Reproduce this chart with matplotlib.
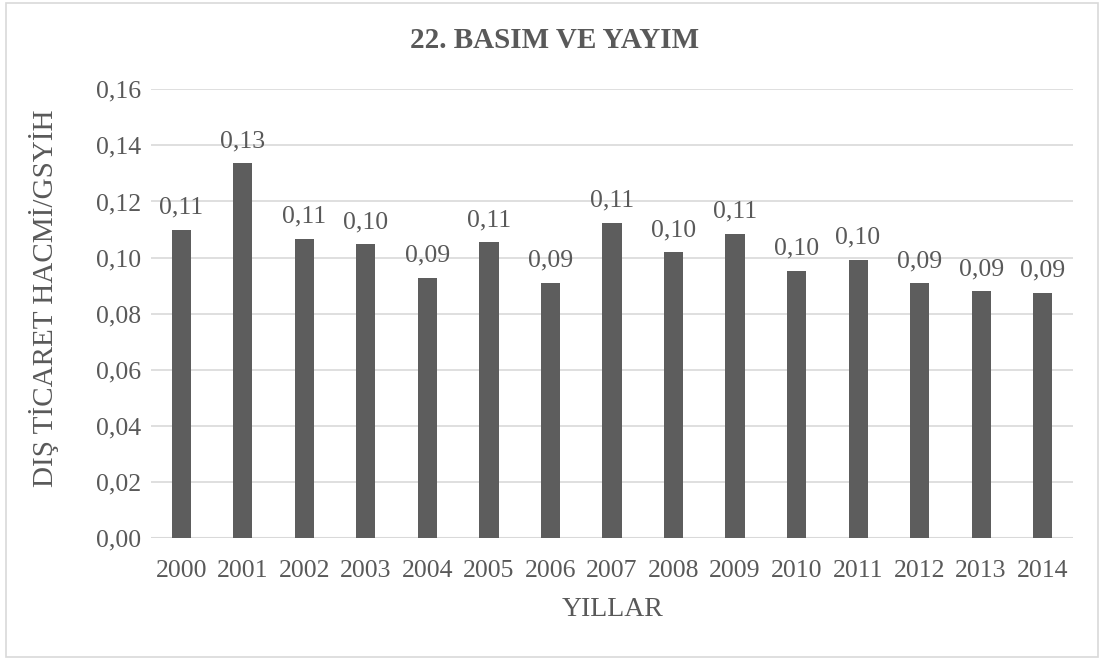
import matplotlib
matplotlib.use("Agg")
import matplotlib.pyplot as plt
from matplotlib.patches import Rectangle

years = ["2000", "2001", "2002", "2003", "2004", "2005", "2006", "2007",
         "2008", "2009", "2010", "2011", "2012", "2013", "2014"]
values = [0.1099, 0.1336, 0.1067, 0.1047, 0.0928, 0.1054, 0.0910, 0.1123,
          0.1019, 0.1085, 0.0952, 0.0993, 0.0908, 0.0879, 0.0874]
yticks = [0.00, 0.02, 0.04, 0.06, 0.08, 0.10, 0.12, 0.14, 0.16]

title = "22. BASIM VE YAYIM"
ylabel = "DIŞ TİCARET HACMİ/GSYİH"
xlabel = "YILLAR"

txt = "#595959"
bar_c = "#5d5d5d"
grid_c = "#d9d9d9"
fam = ['Liberation Serif', 'DejaVu Serif']

plt.rcParams['font.family'] = fam

fig = plt.figure(figsize=(11.03, 6.58), dpi=100)
ax = fig.add_axes([0.1366, 0.1824, 0.8365, 0.6819])

x = list(range(len(years)))
ax.bar(x, values, width=0.31, color=bar_c, zorder=3)

ax.set_xlim(-0.5, len(years) - 0.5)
ax.set_ylim(0, 0.16)
ax.set_yticks(yticks)
ax.set_yticklabels([f"{t:.2f}".replace(".", ",") for t in yticks])
ax.set_xticks(x)
ax.set_xticklabels(years)
ax.tick_params(axis='both', length=0, labelsize=18.5, colors=txt)
ax.tick_params(axis='x', pad=16)
ax.tick_params(axis='y', pad=7)

ax.grid(axis='y', color=grid_c, linewidth=1.2, zorder=0)
for s in ax.spines.values():
    s.set_visible(False)
ax.axhline(0, color=grid_c, linewidth=1.5, zorder=2)

for xi, v in zip(x, values):
    ax.annotate(f"{v:.2f}".replace(".", ","), (xi, v), xytext=(0, 8),
                textcoords="offset points", ha='center', va='bottom',
                fontsize=18.5, color=txt, family=fam)

fig.text(0.503, 0.939, title, ha='center', va='center', fontsize=21,
         fontweight='bold', color=txt, family=fam)
fig.text(0.040, 0.546, ylabel, ha='center', va='center', rotation=90,
         fontsize=21, color=txt, family=fam)
fig.text(0.555, 0.073, xlabel, ha='center', va='center', fontsize=20,
         color=txt, family=fam)

fig.patches.append(Rectangle((6 / 1103, 1 / 658), 1092 / 1103, 654 / 658,
                             transform=fig.transFigure, fill=False,
                             edgecolor="#d9d9d9", linewidth=1.2))

fig.savefig("out.png", dpi=100)
